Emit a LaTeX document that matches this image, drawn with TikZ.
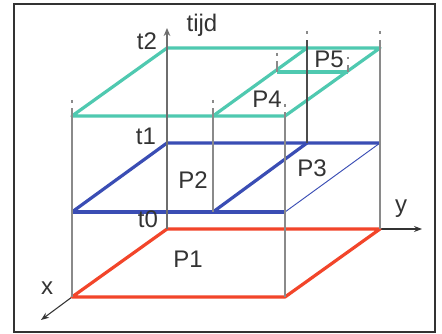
\documentclass[tikz,border=0pt]{standalone}
\usepackage{fontspec}
\setmainfont{Liberation Sans}
\usetikzlibrary{arrows.meta}
\definecolor{redP}{HTML}{F2452A}
\definecolor{blueP}{HTML}{3A4DB4}
\definecolor{tealP}{HTML}{4FC9B0}
\definecolor{grayV}{HTML}{8A8A8A}
\definecolor{txt}{HTML}{333333}
\tikzset{
  redline/.style={redP, line width=2.4pt, line join=round},
  blueline/.style={blueP, line width=2.4pt, line join=round},
  tealline/.style={tealP, line width=2.4pt, line join=round},
  vline/.style={grayV, line width=1.5pt},
  darkv/.style={black!70, line width=0.8pt},
  tipdot/.style={grayV, line width=1.2pt},
  lbl/.style={text=txt, inner sep=0pt, anchor=base, font=\fontsize{18}{21}\selectfont},
  axisarrow/.style={black!80, line width=0.8pt, -{Stealth[length=6pt,width=4.5pt]}},
}
\begin{document}
\begin{tikzpicture}[x=0.75pt,y=-0.75pt]
\useasboundingbox (0,0) rectangle (442,334);
\fill[white] (0,0) rectangle (442,334);
\draw[black!80, line width=1.5pt] (14,4) rectangle (435,332);
% corner coordinates
\coordinate (R1) at (167,229); \coordinate (R2) at (380,229);
\coordinate (R3) at (285,297); \coordinate (R4) at (72,297);
\coordinate (B1) at (167,143); \coordinate (B2) at (380,143);
\coordinate (B3) at (285,212); \coordinate (B4) at (72,212);
\coordinate (Bm1) at (213,212); \coordinate (Bm2) at (307,143);
\coordinate (T1) at (167,48); \coordinate (T2) at (380,48);
\coordinate (T3) at (285,116); \coordinate (T4) at (72,116);
\coordinate (Tm1) at (213,116); \coordinate (Tm2) at (307,48);
\coordinate (Tp1) at (277,72); \coordinate (Tp2) at (348,72);
% vertical tops
\coordinate (V1) at (72,108); \coordinate (V3) at (213,108);
\coordinate (V4) at (285,112); \coordinate (V5) at (307,40);
\coordinate (V6) at (380,40); \coordinate (V7) at (277,61);
\coordinate (V8) at (348,65);
\coordinate (Ztop) at (167,28);
\coordinate (Yend) at (422,229);
\coordinate (Xend) at (41,320);
% axes beyond the layers
\draw[axisarrow] (R2) -- (Yend);
\draw[axisarrow] (R4) -- (Xend);
% layers
\draw[redline] (R1) -- (R2) -- (R3) -- (R4) -- cycle;
\draw[blueline] (B4) -- (B1) -- (B2);
\draw[blueline] (B4) -- (B3);
\draw[blueline] (Bm1) -- (Bm2);
\draw[blueP, line width=0.7pt] (B3) -- (B2);
\draw[tealline] (T3) -- (T4) -- (T1) -- (T2) -- cycle;
\draw[tealline] (Tm1) -- (Tm2);
\draw[tealline] (Tp1) -- (Tp2);
% verticals
\draw[vline] (R4) -- (V1);
\draw[vline] (Bm1) -- (V3);
\draw[vline] (R3) -- (V4);
\draw[darkv] (Bm2) -- (V5);
\draw[vline] (R2) -- (V6);
\draw[vline, line width=1pt] (Tp1) -- (V7);
\draw[vline, line width=1pt] (Tp2) -- (V8);
% small dots above verticals
\draw[tipdot] (72,100) -- (72,103);
\draw[tipdot] (213,100) -- (213,103);
\draw[tipdot] (285,104) -- (285,107);
\draw[tipdot] (307,31) -- (307,34);
\draw[tipdot] (380,31) -- (380,34);
\draw[tipdot] (277,53) -- (277,56);
\draw[tipdot] (348,57) -- (348,59);
% time axis
\draw[grayV!80!black, line width=1.8pt, -{Stealth[length=6pt,width=5pt]}] (R1) -- (Ztop);
% labels
\node[lbl] (ltijd) at (202,32) {tijd};
\node[lbl] (lt2) at (147,50) {t2};
\node[lbl] (lt1) at (146,145) {t1};
\node[lbl] (lt0) at (148,228) {t0};
\node[lbl] (lP1) at (188,268) {P1};
\node[lbl] (lP2) at (193,189) {P2};
\node[lbl] (lP3) at (312,177) {P3};
\node[lbl] (lP4) at (267,108) {P4};
\node[lbl] (lP5) at (329,68) {P5};
\node[lbl] (lx) at (47,295) {x};
\node[lbl] (ly) at (401,213) {y};
\end{tikzpicture}
\end{document}
